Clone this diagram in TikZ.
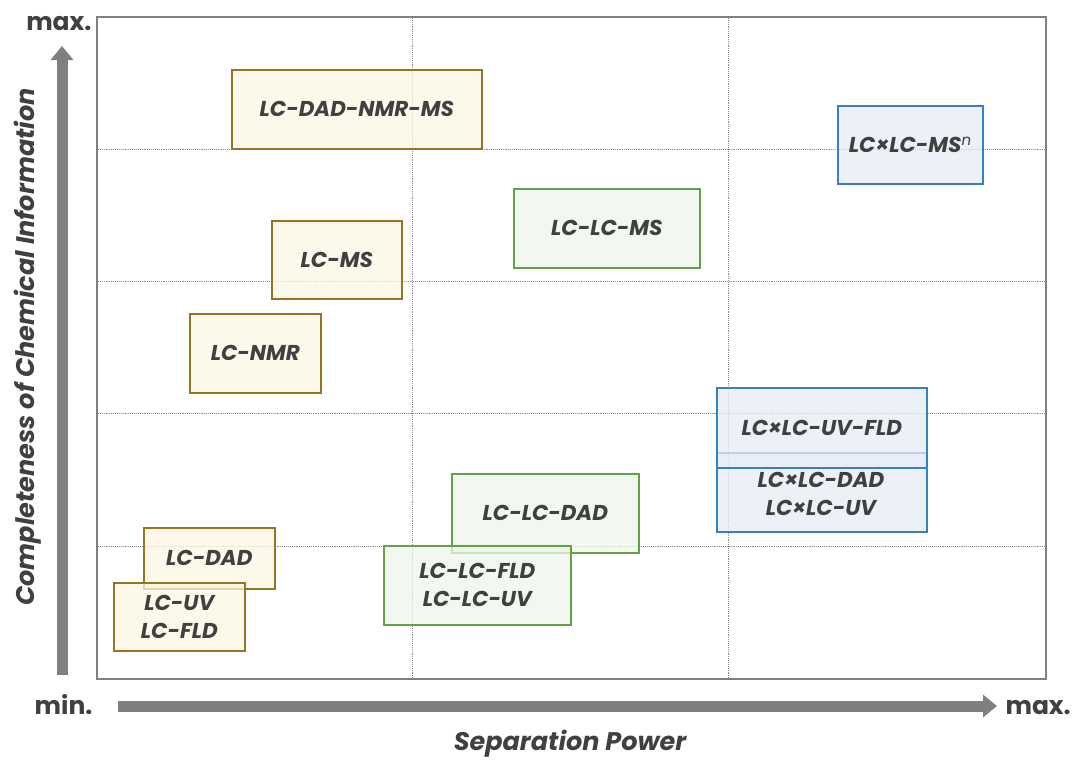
\documentclass[tikz,border=0pt]{standalone}
\usepackage{fontspec}
\setmainfont{Poppins}
\usetikzlibrary{arrows.meta}
\definecolor{txt}{HTML}{404040}
\definecolor{axisc}{HTML}{7F7F7F}
\definecolor{gridc}{HTML}{8C8C8C}
\definecolor{brownd}{HTML}{957424}
\definecolor{brownf}{HTML}{FBF6E3}
\definecolor{greend}{HTML}{62A148}
\definecolor{greenf}{HTML}{EDF5E9}
\definecolor{blued}{HTML}{3580C6}
\definecolor{bluef}{HTML}{E6ECF6}
\tikzset{
  boxbase/.style={anchor=north west, line width=1.6pt, fill opacity=0.75, text opacity=1,
    text=txt, align=center, inner sep=0pt,
    font=\fontsize{21.5}{28}\selectfont\bfseries\itshape},
  brbox/.style={boxbase, draw=brownd, fill=brownf},
  grbox/.style={boxbase, draw=greend, fill=greenf},
  blbox/.style={boxbase, draw=blued, fill=bluef},
  gridline/.style={gridc, densely dotted, line width=0.9pt},
  axarrow/.style={axisc, line width=11pt, -{Triangle[width=22pt,length=14pt]}},
  axlab/.style={text=txt, font=\fontsize{25}{27}\selectfont\bfseries},
  axtitle/.style={text=txt, font=\fontsize{25.5}{28}\selectfont\itshape\bfseries}
}
\begin{document}
\begin{tikzpicture}[x=1pt,y=-1pt]
\useasboundingbox (0,0) rectangle (1074,761);
% grid
\draw[gridline] (412,16) -- (412,678);
\draw[gridline] (728,16) -- (728,678);
\foreach \yy in {149,281,413,546} \draw[gridline] (96,\yy) -- (1045,\yy);
% frame
\node[draw=axisc, line width=2pt, minimum width=949pt, minimum height=662pt, anchor=north west, inner sep=0pt] (frame) at (96,16) {};
% boxes
\node[brbox, minimum width=250pt, minimum height=79pt] (ldnm) at (231,69) {LC-DAD-NMR-MS};
\node[brbox, minimum width=130pt, minimum height=78pt] (lms) at (271,220) {LC-MS};
\node[brbox, minimum width=131pt, minimum height=79pt] (lnmr) at (189,313) {LC-NMR};
\node[brbox, minimum width=131pt, minimum height=61pt] (ldad) at (143,527) {LC-DAD};
\node[brbox, minimum width=131pt, minimum height=68pt] (luv) at (113,582) {LC-UV\\LC-FLD};
\node[grbox, minimum width=186pt, minimum height=79pt] (llms) at (513,188) {LC-LC-MS};
\node[grbox, minimum width=187pt, minimum height=79pt] (lldad) at (451,473) {LC-LC-DAD};
\node[grbox, minimum width=187pt, minimum height=79pt] (llfld) at (383,545) {LC-LC-FLD\\LC-LC-UV};
\node[blbox, minimum width=145pt, minimum height=78pt] (lxms) at (837,105) {LC×LC-MS\textsuperscript{\mdseries n}};
\node[blbox, minimum width=210pt, minimum height=79pt] (lxdad) at (716,452) {};
\node[text=txt, font=\fontsize{21.5}{28}\selectfont\bfseries\itshape, align=center] (lxdadt) at (821,494) {LC×LC-DAD\\LC×LC-UV};
\node[blbox, minimum width=210pt, minimum height=80pt] (lxuv) at (716,387) {LC×LC-UV-FLD};
% axes
\coordinate (ya) at (62,675);
\coordinate (yb) at (62,46);
\coordinate (xa) at (118,706);
\coordinate (xb) at (997,706);
\draw[axarrow] (ya) -- (yb);
\draw[axarrow] (xa) -- (xb);
\node[axlab, anchor=base east] (ymax) at (95,30) {max.};
\node[axlab, anchor=base east] (xmin) at (96,714) {min.};
\node[axlab, anchor=base west] (xmax) at (1002,714) {max.};
\node[axtitle] (xt) at (570,744) {Separation Power};
\node[axtitle, rotate=90] (yt) at (28,347) {Completeness of Chemical Information};
\end{tikzpicture}
\end{document}
